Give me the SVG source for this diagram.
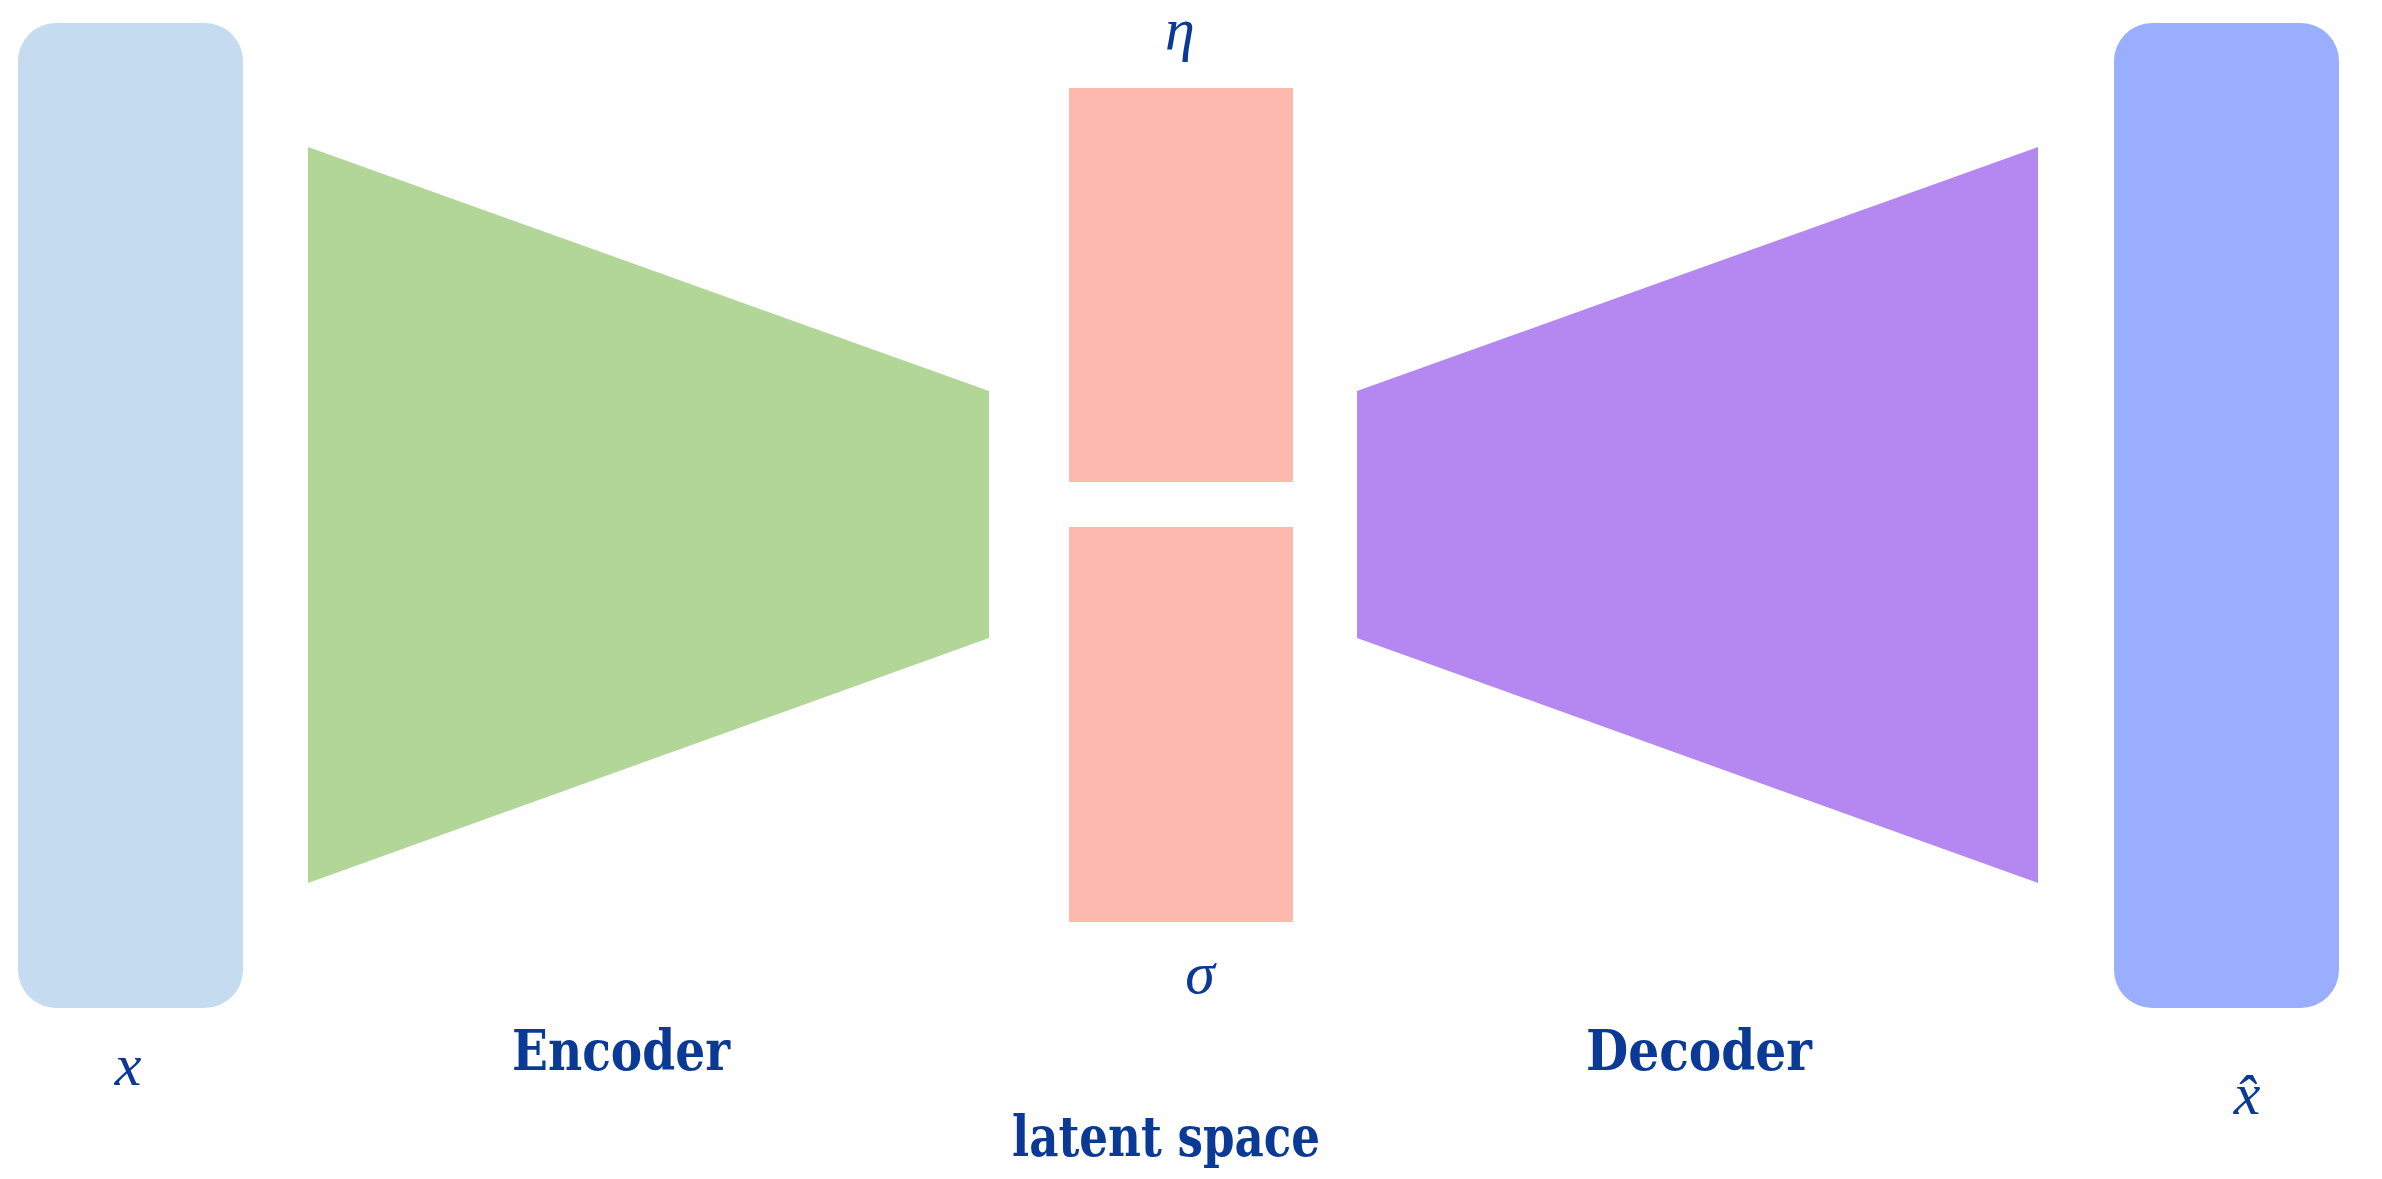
<svg xmlns="http://www.w3.org/2000/svg" width="2382" height="1179" viewBox="0 0 2382 1179">
<style>
.lbl{font-family:"DejaVu Serif Condensed","DejaVu Serif","Liberation Serif",serif;font-weight:bold;fill:#0B3A96;font-size:56px;}
.math{font-family:"Liberation Serif","DejaVu Serif",serif;font-style:italic;fill:#0B3A96;font-size:60px;text-anchor:middle;}
</style>
<rect width="2382" height="1179" fill="#ffffff"/>
<g id="input">
<rect x="18" y="23" width="225" height="985" rx="38" ry="38" fill="#C5DBF0"/>
<text class="math" x="128" y="1085">x</text>
</g>
<g id="encoder">
<polygon points="308,147 989,391 989,638 308,883" fill="#B2D698"/>
<text class="lbl" x="512" y="1070" textLength="218" lengthAdjust="spacingAndGlyphs">Encoder</text>
</g>
<g id="latent">
<g id="eta">
<rect x="1069" y="88" width="224" height="394" fill="#FDB9AE"/>
<text class="math" x="1180" y="49" font-size="46">η</text>
</g>
<g id="sigma">
<rect x="1069" y="527" width="224" height="395" fill="#FDB9AE"/>
<text class="math" x="1200" y="993">σ</text>
</g>
<text class="lbl" x="1012" y="1156" textLength="308" lengthAdjust="spacingAndGlyphs">latent space</text>
</g>
<g id="decoder">
<polygon points="1357,391 2038,147 2038,883 1357,638" fill="#B587F0"/>
<text class="lbl" x="1586" y="1070" textLength="226" lengthAdjust="spacingAndGlyphs">Decoder</text>
</g>
<g id="output">
<rect x="2114" y="23" width="225" height="985" rx="38" ry="38" fill="#99AEFD"/>
<text class="math" x="2247" y="1114">x̂</text>
</g>
<g id="connectors"></g>
</svg>
